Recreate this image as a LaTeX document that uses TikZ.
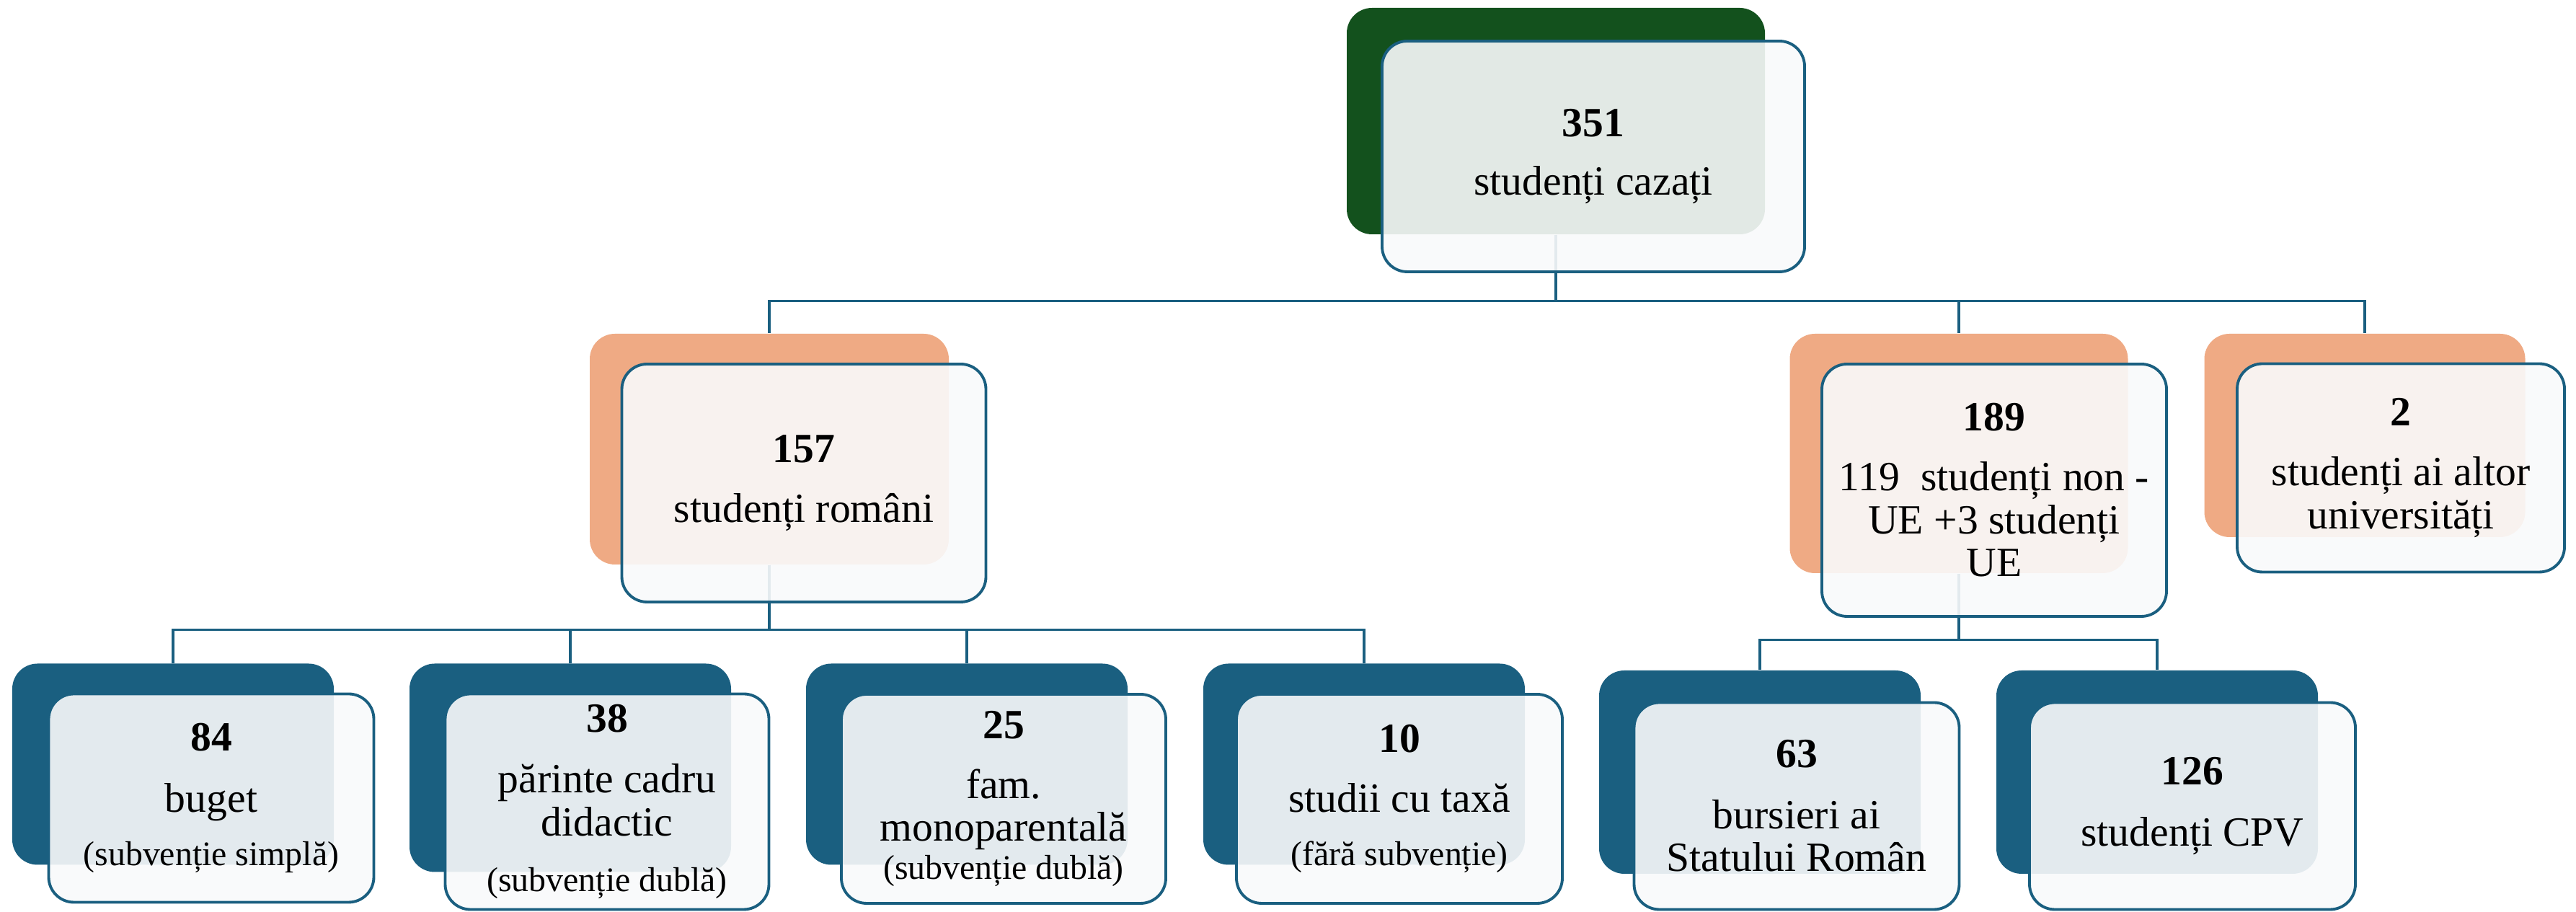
\documentclass[tikz,border=0pt]{standalone}
\usepackage{fontspec}
\setmainfont{Liberation Serif}

\definecolor{dkgreen}{RGB}{19,81,29}
\definecolor{salmon}{RGB}{239,170,132}
\definecolor{deepteal}{RGB}{26,95,128}
\definecolor{frontfill}{RGB}{249,250,251}

\newcommand{\mainsize}{\fontsize{16.4pt}{17pt}\selectfont}
\newcommand{\subsize}{\fontsize{13.6pt}{17pt}\selectfont}

\tikzset{
  backbox/.style={rectangle, rounded corners=0.35cm, inner sep=0pt},
  frontbox/.style={rectangle, rounded corners=0.35cm, draw=deepteal, line width=1.1pt,
    fill=frontfill, fill opacity=0.9, text opacity=1, inner sep=2pt, align=center, font=\mainsize},
  link/.style={draw=deepteal, line width=0.9pt},
}

\begin{document}
\begin{tikzpicture}
    % Canvas
    \fill[white] (0,0) rectangle (35.73,12.65);
    \useasboundingbox (0,0) rectangle (35.73,12.65);

    % Back boxes
    \node[backbox, fill=dkgreen, minimum width=5.80cm, minimum height=3.14cm] (b351) at (21.58,10.97) {};

    \node[backbox, fill=salmon, minimum width=4.98cm, minimum height=3.20cm] (b157) at (10.67,6.42) {};
    \node[backbox, fill=salmon, minimum width=4.69cm, minimum height=3.32cm] (b189) at (27.17,6.36) {};
    \node[backbox, fill=salmon, minimum width=4.45cm, minimum height=2.82cm] (b2) at (32.80,6.61) {};

    \node[backbox, fill=deepteal, minimum width=4.46cm, minimum height=2.79cm] (b84) at (2.40,2.05) {};
    \node[backbox, fill=deepteal, minimum width=4.46cm, minimum height=2.89cm] (b38) at (7.91,2.00) {};
    \node[backbox, fill=deepteal, minimum width=4.46cm, minimum height=2.79cm] (b25) at (13.41,2.05) {};
    \node[backbox, fill=deepteal, minimum width=4.46cm, minimum height=2.79cm] (b10) at (18.92,2.05) {};
    \node[backbox, fill=deepteal, minimum width=4.46cm, minimum height=2.82cm] (b63) at (24.41,1.94) {};
    \node[backbox, fill=deepteal, minimum width=4.46cm, minimum height=2.82cm] (b126) at (29.92,1.94) {};

    % Connectors
    \draw[link] (b351.south) -- ++(0,-0.92) -| (b157.north);
    \draw[link] (b351.south) -- ++(0,-0.92) -| (b189.north);
    \draw[link] (b351.south) -- ++(0,-0.92) -| (b2.north);

    \draw[link] (b157.south) -- ++(0,-0.90) -| (b84.north);
    \draw[link] (b157.south) -- ++(0,-0.90) -| (b38.north);
    \draw[link] (b157.south) -- ++(0,-0.90) -| (b25.north);
    \draw[link] (b157.south) -- ++(0,-0.90) -| (b10.north);

    \draw[link] (b189.south) -- ++(0,-0.92) -| (b63.north);
    \draw[link] (b189.south) -- ++(0,-0.92) -| (b126.north);

    % Front boxes
    \node[frontbox, minimum width=5.86cm, minimum height=3.20cm] (f351) at (22.10,10.48)
        {\textbf{351}\\[6pt]studenți cazați};

    \node[frontbox, minimum width=5.05cm, minimum height=3.30cm] (f157) at (11.15,5.95)
        {\textbf{157}\\[6.5pt]studenți români};
    \node[frontbox, minimum width=4.78cm, minimum height=3.50cm] (f189) at (27.66,5.85)
        {\textbf{189}\\[6.5pt]119\ \ studenți non -\\UE +3 studenți\\UE};
    \node[frontbox, minimum width=4.54cm, minimum height=2.89cm] (f2) at (33.30,6.16)
        {\textbf{2}\\[6.5pt]studenți ai altor\\universități};

    \node[frontbox, minimum width=4.51cm, minimum height=2.89cm] (f84) at (2.93,1.58)
        {\textbf{84}\\[7pt]buget\\[4pt]{\subsize (subvenție simplă)}};
    \node[frontbox, minimum width=4.49cm, minimum height=2.99cm] (f38) at (8.42,1.53)
        {\textbf{38}\\[7pt]părinte cadru\\didactic\\[5pt]{\subsize (subvenție dublă)}};
    \node[frontbox, minimum width=4.50cm, minimum height=2.90cm] (f25) at (13.92,1.57)
        {\textbf{25}\\[6.5pt]fam.\\monoparentală\\[-2pt]{\subsize (subvenție dublă)}};
    \node[frontbox, minimum width=4.52cm, minimum height=2.90cm] (f10) at (19.41,1.57)
        {\textbf{10}\\[6.5pt]studii cu taxă\\[4pt]{\subsize (fără subvenție)}};
    \node[frontbox, minimum width=4.51cm, minimum height=2.87cm] (f63) at (24.92,1.47)
        {\textbf{63}\\[7pt]bursieri ai\\Statului Român};
    \node[frontbox, minimum width=4.52cm, minimum height=2.87cm] (f126) at (30.41,1.47)
        {\textbf{126}\\[7pt]studenți CPV};

\end{tikzpicture}
\end{document}
